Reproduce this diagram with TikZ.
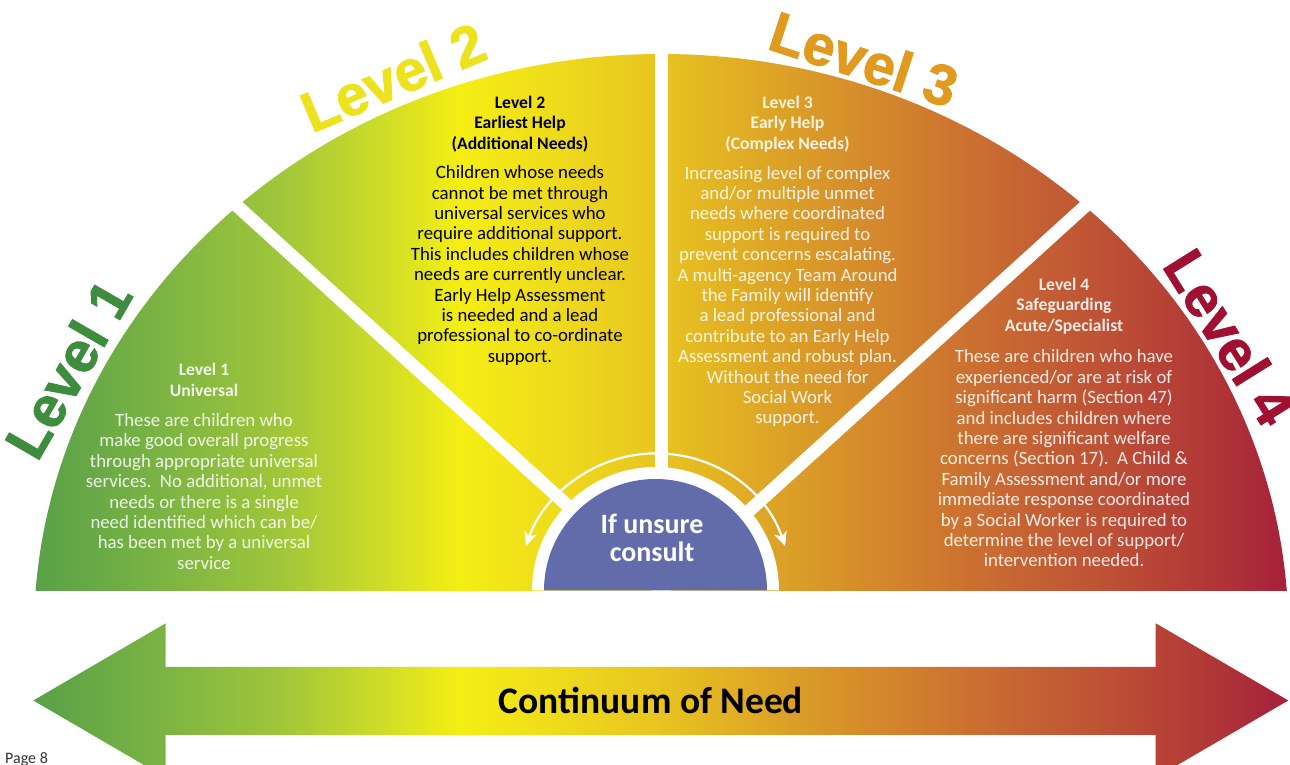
\documentclass[tikz,border=0pt]{standalone}
\usepackage{fontspec}
\setmainfont{Carlito}
\newfontfamily\tagfont{Liberation Sans}[BoldFeatures={FakeBold=1.6}]
\usetikzlibrary{arrows.meta, positioning, calc}
\definecolor{needA}{RGB}{88,160,72}
\definecolor{needB}{RGB}{120,178,68}
\definecolor{needC}{RGB}{160,198,58}
\definecolor{needD}{RGB}{205,220,40}
\definecolor{needE}{RGB}{245,238,20}
\definecolor{needF}{RGB}{238,218,28}
\definecolor{needG}{RGB}{232,196,32}
\definecolor{needH}{RGB}{220,162,38}
\definecolor{needI}{RGB}{210,130,45}
\definecolor{needJ}{RGB}{200,105,50}
\definecolor{needK}{RGB}{190,82,53}
\definecolor{needL}{RGB}{178,58,55}
\definecolor{needM}{RGB}{165,32,58}
\definecolor{unsure}{RGB}{98,108,170}
\definecolor{lvlone}{RGB}{62,140,62}
\definecolor{lvltwo}{RGB}{236,226,30}
\definecolor{lvlthree}{RGB}{224,154,30}
\definecolor{lvlfour}{RGB}{160,16,48}
\pgfdeclarehorizontalshading{need}{100bp}{color(0bp)=(needA); color(25bp)=(needA);
    color(29.66bp)=(needB); color(34.83bp)=(needC); color(38.81bp)=(needD);
    color(42bp)=(needE); color(45.98bp)=(needF); color(49.96bp)=(needG);
    color(54.74bp)=(needH); color(59.51bp)=(needI); color(63.5bp)=(needJ);
    color(67.48bp)=(needK); color(71.46bp)=(needL); color(75bp)=(needM);
    color(100bp)=(needM)}

\begin{document}
\begin{tikzpicture}[x=1pt, y=1pt,
        bigtag/.style={font=\tagfont\bfseries\fontsize{57}{57}\selectfont, inner sep=0},
        heading/.style={align=center, font=\bfseries\fontsize{17.6}{20.4}\selectfont, inner sep=0},
        body/.style={align=center, font=\fontsize{18.8}{20.4}\selectfont, inner sep=0},
        light/.style={text=white, text opacity=0.88},
        divider/.style={white, line width=13},
        turn/.style={white, line width=2.2, {Stealth[length=14, width=13, inset=4]}-{Stealth[length=14, width=13, inset=4]}}]
    \useasboundingbox (0, 0) rectangle (1290, 765);
    \clip (0, 0) rectangle (1290, 765);
    \coordinate (ctr) at (661.2, 174.5);
    \coordinate (arch) at (661.2, 131);
    \coordinate (hub) at (655.5, 174.5);
    \begin{scope}
        \clip (0, 174.5) rectangle (1290, 765);
        \clip (arch) ellipse[x radius=627.3, y radius=580];
        \shade[shading=need] (33.3, 0) rectangle (1288.3, 765);
    \end{scope}
    \shade[shading=need] (33.3, 64.5) -- (165.7, 141.7) -- (165.7, 98) -- (1155.7, 98) -- (1155.7, 141.7)
    -- (1288.3, 64.5) -- (1155.7, -12.7) -- (1155.7, 30) -- (165.7, 30) -- (165.7, -12.7) -- cycle;
    \draw[turn] (hub) ++(19:137) arc[start angle=19, end angle=161, radius=137];
    \draw[divider] (ctr) -- ++(90:560);
    \draw[divider] (ctr) -- ++(42.2:590);
    \draw[divider] (ctr) -- ++(137.8:590);
    \fill[white] (hub) ++(-123.5, 0) arc[start angle=180, end angle=0, radius=123.5] -- cycle;
    \fill[unsure] (hub) ++(-111.5, 0) arc[start angle=180, end angle=0, radius=111.5] -- cycle;
    \node[align=center, text=white, font=\bfseries\fontsize{28}{28}\selectfont] (consult) at (652, 227) {If unsure\\consult};
    \node[bigtag, text=lvlone, rotate=60] (tag1) at (68, 396) {Level 1};
    \node[bigtag, text=lvltwo, rotate=23] (tag2) at (393, 688) {Level 2};
    \node[bigtag, text=lvlthree, rotate=-18] (tag3) at (864, 706) {Level 3};
    \node[bigtag, text=lvlfour, rotate=-58] (tag4) at (1230, 428) {Level 4};
    \node[heading, light] (head1) at (204, 385) {Level 1\\Universal};
    \node[body, light] (body1) at (204, 273.5) {These are children who\\make good overall progress\\through appropriate universal\\services.\ \ No additional, unmet\\needs or there is a single\\need identified which can be/\\has been met by a universal\\service};
    \node[heading] (head2) at (520, 641) {Level 2\\Earliest Help\\(Additional Needs)};
    \node[body] (body2) at (520, 499.5) {Children whose needs\\cannot be met through\\universal services who\\require additional support.\\This includes children whose\\needs are currently unclear.\\Early Help Assessment\\is needed and a lead\\professional to co-ordinate\\support.};
    \node[heading, light] (head3) at (787.5, 641) {Level 3\\Early Help\\(Complex Needs)};
    \node[body, light] (body3) at (787.5, 468.5) {Increasing level of complex\\and/or multiple unmet\\needs where coordinated\\support is required to\\prevent concerns escalating.\\A multi-agency Team Around\\the Family will identify\\a lead professional and\\contribute to an Early Help\\Assessment and robust plan.\\Without the need for\\Social Work\\support.};
    \node[heading, light] (head4) at (1064, 459) {Level 4\\Safeguarding\\Acute/Specialist};
    \node[body, light] (body4) at (1064, 306.5) {These are children who have\\experienced/or are at risk of\\significant harm (Section 47)\\and includes children where\\there are significant welfare\\concerns (Section 17).\ \ A Child \&\\Family Assessment and/or more\\immediate response coordinated\\by a Social Worker is required to\\determine the level of support/\\intervention needed.};
    \node[font=\bfseries\fontsize{37.5}{37.5}\selectfont] (continuum) at (651, 65) {Continuum of Need};
    \node[anchor=base west, inner sep=0, text=black!80, font=\fontsize{16}{16}\selectfont] (page) at (5, 1) {Page 8};
\end{tikzpicture}
\end{document}
